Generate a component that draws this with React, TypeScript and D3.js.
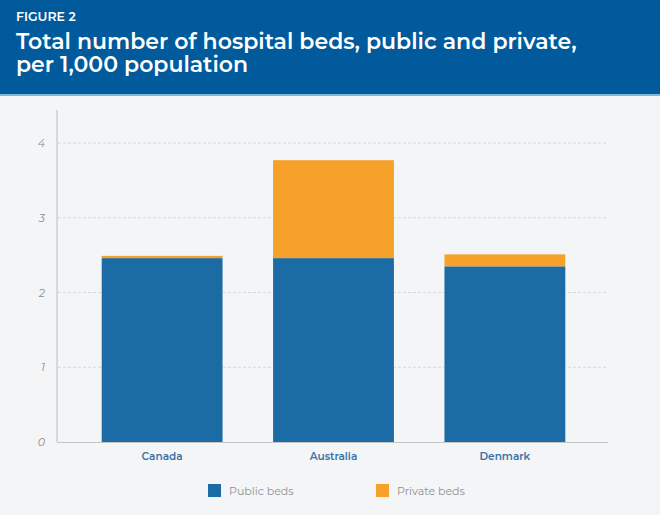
import React from "react";
import * as d3 from "d3";

const categories = ["Canada", "Australia", "Denmark"];
const publicBeds = [2.46, 2.46, 2.35];
const privateBeds = [0.03, 1.31, 0.16];
const seriesNames = ["Public beds", "Private beds"];
const yTicks = [0, 1, 2, 3, 4];

const W = 660;
const H = 515;
const BLUE = "#1b6ca5";
const ORANGE = "#f6a12a";

export default function App() {
  const x = d3.scaleBand().domain(categories).range([76, 591]).paddingInner(0.295).paddingOuter(0.15);
  const y = d3.scaleLinear().domain([0, 4]).range([442, 143]);
  const rows = categories.map((c, i) => ({ cat: c, pub: publicBeds[i], priv: privateBeds[i] }));
  const stack = d3.stack<any>().keys(["pub", "priv"])(rows);
  const colors = [BLUE, ORANGE];
  const font = "Montserrat, 'Open Sans', 'Noto Sans', sans-serif";

  return (
    <svg width={W} height={H} style={{ position: "absolute", left: 0, top: 0 }} fontFamily={font}>
      <rect x={0} y={0} width={W} height={H} fill="#f3f5f7" />
      <rect x={0} y={0} width={W} height={95} fill="#005a9c" />
      <rect x={0} y={94} width={W} height={2} fill="#7fb6dc" />
      <text x={16} y={21} fill="#fff" fontSize={12.5} fontWeight={600}>FIGURE 2</text>
      <text x={16} y={49} fill="#fff" fontSize={22} fontWeight={600}>
        <tspan x={16} y={49}>Total number of hospital beds, public and private,</tspan>
        <tspan x={16} y={72}>per 1,000 population</tspan>
      </text>

      {yTicks.map((t) => (
        <g key={t}>
          {t > 0 && (
            <line x1={58} x2={608} y1={y(t)} y2={y(t)} stroke="#d6d9dc" strokeDasharray="3,2" strokeWidth={1} />
          )}
          <text x={45} y={y(t) + 4} textAnchor="end" fontSize={11} fontStyle="italic" fill="#8a8d90">{t}</text>
        </g>
      ))}

      {stack.map((s, si) =>
        s.map((d, i) => (
          <rect
            key={si + "-" + i}
            x={x(categories[i])}
            width={x.bandwidth()}
            y={y(d[1])}
            height={y(d[0]) - y(d[1])}
            fill={colors[si]}
          />
        ))
      )}

      <line x1={57} x2={57} y1={110} y2={442} stroke="#c4c7ca" strokeWidth={1.2} />
      <line x1={57} x2={608} y1={442.5} y2={442.5} stroke="#c4c7ca" strokeWidth={1.2} />

      {categories.map((c) => (
        <text key={c} x={(x(c) as number) + x.bandwidth() / 2} y={460} textAnchor="middle" fontSize={10.5} fontWeight={600} fill="#3a73a8">{c}</text>
      ))}

      {seriesNames.map((n, i) => {
        const lx = i === 0 ? 208 : 376;
        return (
          <g key={n}>
            <rect x={lx} y={484} width={13} height={13} fill={colors[i]} />
            <text x={lx + 21} y={495} fontSize={11} fill="#8f9295">{n}</text>
          </g>
        );
      })}
    </svg>
  );
}
